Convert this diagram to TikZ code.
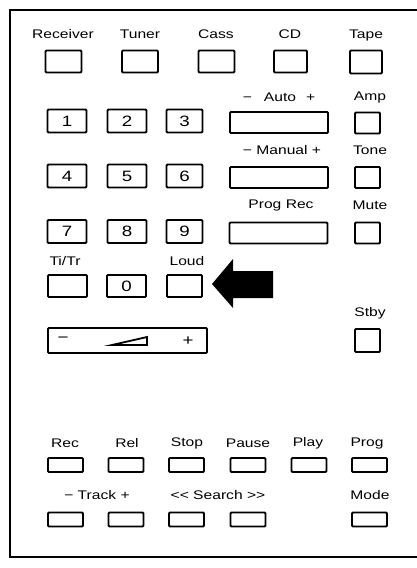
\documentclass[tikz,border=0pt]{standalone}
\usepackage{fontspec}
\setmainfont{Liberation Sans}
\newfontfamily\keyfont[FakeStretch=1.25]{Liberation Sans}
\usetikzlibrary{calc}

\tikzset{
  key/.style={draw, line width=1.8pt, rounded corners=1pt, inner sep=0pt,
    minimum width=36pt, minimum height=22pt, font=\keyfont\fontsize{15}{15}\selectfont},
  numkey/.style={key, minimum width=39pt, minimum height=23pt},
  widekey/.style={key, minimum width=98pt, minimum height=21pt},
  sqkey/.style={key, minimum width=25pt, minimum height=21pt},
  flatkey/.style={key, minimum width=35pt, minimum height=14pt},
  lbl/.style={inner sep=0pt, font=\keyfont\fontsize{12.5}{13}\selectfont},
}

\begin{document}
\begin{tikzpicture}[x=1pt, y=-1pt]
  \useasboundingbox (0,0) rectangle (417,568);

  % Outline of the handset
  \draw[line width=2pt] (417,10) -- (10,10) -- (10,557) -- (417,557);

  % Source keys
  \node[lbl] (lrcv)  at (63,34)  {Receiver};
  \node[lbl] (ltun)  at (140,34) {Tuner};
  \node[lbl] (lcass) at (216,34) {Cass};
  \node[lbl] (lcd)   at (290,34) {CD};
  \node[lbl] (ltape) at (366,35) {Tape};
  \node[key] (rcv)  at (63.5,61.5) {};
  \node[key] (tun)  at (140,61.5)  {};
  \node[key] (cass) at (216.5,61.5) {};
  \node[key, minimum width=33pt] (cd)   at (290.5,61.5) {};
  \node[key, minimum width=32pt, minimum height=23pt] (tape) at (366,62) {};

  % Number keys
  \node[numkey] (k1) at (67,121)  {1};
  \node[numkey] (k2) at (127,121) {2};
  \node[numkey, minimum width=36pt] (k3) at (184.5,121) {3};
  \node[numkey] (k4) at (67,176)  {4};
  \node[numkey] (k5) at (127,176) {5};
  \node[numkey, minimum width=36pt] (k6) at (184.5,176) {6};
  \node[numkey] (k7) at (67,231.5)  {7};
  \node[numkey] (k8) at (127,231.5) {8};
  \node[numkey, minimum width=36pt] (k9) at (184.5,231.5) {9};

  % Tuning keys
  \node[lbl] (lauto)   at (279,97)  {−\hspace{12pt}Auto\hspace{10pt}+};
  \node[lbl] (lmanual) at (282,150) {− Manual +};
  \node[lbl] (lprog)   at (281,205) {Prog Rec};
  \node[widekey] (auto)    at (279,122.5) {};
  \node[widekey] (manual)  at (279,177.5) {};
  \node[widekey] (progrec) at (278.5,233)  {};

  % Right column
  \node[lbl] (lamp)  at (370,97)  {Amp};
  \node[lbl] (ltone) at (370,150) {Tone};
  \node[lbl] (lmute) at (370,205) {Mute};
  \node[lbl] (lstby) at (370,313) {Stby};
  \node[sqkey] (amp)  at (367.5,123)   {};
  \node[sqkey] (tone) at (367.5,177.5) {};
  \node[sqkey] (mute) at (367.5,233)   {};
  \node[sqkey, minimum height=23pt] (stby) at (367.5,340.5) {};

  % Ti/Tr, 0 and Loud
  \node[lbl] (ltitr) at (65,261)  {Ti/Tr};
  \node[lbl] (lloud) at (187,261) {Loud};
  \node[numkey, minimum height=22pt] (titr) at (67.5,286)  {};
  \node[numkey, minimum height=22pt] (k0)   at (126.5,286) {0};
  \node[numkey, minimum width=35pt, minimum height=22pt] (loud) at (184.5,286) {};

  % Pointer to Loud
  \fill (212,284) -- (233,259) -- (233,271) -- (273,271) -- (273,298)
    -- (233,298) -- (233,308) -- cycle;

  % Volume rocker
  \node[key, minimum width=159pt, minimum height=25pt] (vol) at (127.5,340.5) {};
  \node[lbl, font=\keyfont\fontsize{15}{15}\selectfont] (vminus) at (63,340) {−};
  \node[lbl, font=\keyfont\fontsize{15}{15}\selectfont] (vplus)  at (188,341) {+};
  \draw[line width=1.8pt, line join=miter] (112,345) -- (147,345) -- (147,337) -- cycle;

  % Deck keys
  \node[lbl] (lrec)   at (65,443)  {Rec};
  \node[lbl] (lrel)   at (127,443) {Rel};
  \node[lbl] (lstop)  at (187,443) {Stop};
  \node[lbl] (lpause) at (248,443) {Pause};
  \node[lbl] (lplay)  at (308,443) {Play};
  \node[lbl] (lpgm)   at (367,443) {Prog};
  \node[flatkey] (rec)   at (65.5,465)  {};
  \node[flatkey] (rel)   at (126,465)   {};
  \node[flatkey] (stop)  at (186.5,465) {};
  \node[flatkey] (pause) at (248,465)   {};
  \node[flatkey] (play)  at (309,465)   {};
  \node[flatkey] (pgm)   at (369.5,465) {};

  \node[lbl] (ltrack)  at (97,495)  {− Track +};
  \node[lbl] (lsearch) at (218,495) {<< Search >>};
  \node[lbl] (lmode)   at (370,495) {Mode};
  \node[flatkey] (trkm)  at (65.5,519.5)  {};
  \node[flatkey] (trkp)  at (126,519.5)   {};
  \node[flatkey] (srchb) at (186.5,519.5) {};
  \node[flatkey] (srchf) at (248,519.5)   {};
  \node[flatkey] (mode)  at (369.5,519.5) {};
\end{tikzpicture}
\end{document}
